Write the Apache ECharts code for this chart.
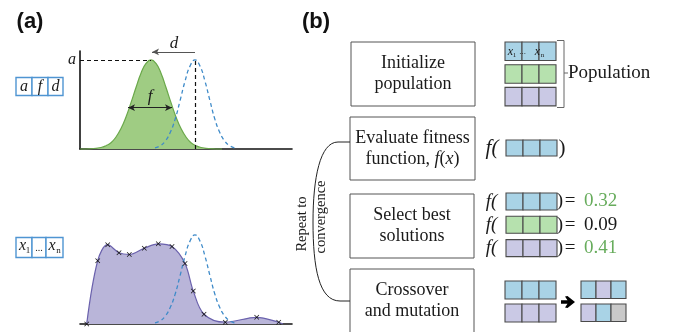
<!DOCTYPE html>
<html><head><meta charset="utf-8">
<script src="https://cdn.jsdelivr.net/npm/echarts@6/dist/echarts.min.js"></script>
<style>html,body{margin:0;padding:0;background:#fff}#c{width:676px;height:332px}</style>
</head><body><div id="c"></div>
<script>
// ---------- data ----------
// top panel: fitted peak (green) and target peak (blue dashed); x in plot units, y relative to amplitude a = 1
const peakX      = [0, 11, 21, 26, 31, 36, 41, 46, 51, 56, 61, 66, 71, 76, 81, 86, 91, 96, 101, 106, 111, 116, 121, 131, 142];
const peakY      = [0, 0.003, 0.017, 0.037, 0.07, 0.135, 0.23, 0.36, 0.52, 0.69, 0.85, 0.96, 1, 0.96, 0.85, 0.69, 0.52, 0.36, 0.23, 0.135, 0.07, 0.037, 0.017, 0.003, 0];
const targetX    = [75, 80, 85, 90, 95, 100, 105, 110, 115, 120, 125, 130, 135, 140, 145, 150, 155];
const targetY    = [0.012, 0.035, 0.085, 0.18, 0.33, 0.54, 0.76, 0.93, 1, 0.93, 0.76, 0.54, 0.33, 0.18, 0.085, 0.035, 0.012];
// bottom panel: free-form profile defined by points x1..xn
const profileX   = [6.7, 17.7, 27.7, 39, 49.3, 64.3, 78.3, 92, 105, 113.3, 124, 145.3, 176.7, 198.7, 203];
const profileY   = [0, 0.71, 0.89, 0.80, 0.78, 0.85, 0.90, 0.87, 0.68, 0.37, 0.11, 0.02, 0.075, 0.02, 0];
// annotation values
const peakCenter = 71, targetCenter = 115, halfWidthLevel = 0.464, fwhmFrom = 48, fwhmTo = 92;
// panel (b)
const stepLabels = [['Initialize', 'population'], ['Evaluate fitness', 'function, {i|f}({i|x})'], ['Select best', 'solutions'], ['Crossover', 'and mutation']];
const fitnessValues = ['0.32', '0.09', '0.41'];
const fitnessSelected = [true, false, true];
const population = [['blue', 'blue', 'blue'], ['green', 'green', 'green'], ['purple', 'purple', 'purple']];
const parents = [['blue', 'blue', 'blue'], ['purple', 'purple', 'purple']];
const offspring = [['blue', 'purple', 'blue'], ['purple', 'blue', 'gray']];
const paramLabels = ['a', 'f', 'd'];

// ---------- styles ----------
const serif = 'Liberation Serif';
const cellColor = {blue: '#a9d3e6', green: '#b6e1ae', purple: '#cac9e5', gray: '#c9c9c9'};
const cellStroke = '#4a4a4a';
const zip = (xs, ys) => xs.map((x, i) => [x, ys[i]]);
const crossSym = 'path://M0,1L1,0L5,4L9,0L10,1L6,5L10,9L9,10L5,6L1,10L0,9L4,5Z';

const g = [];
function txt(x, y, text, o, rot) {
  const el = {type: 'text', x: x, y: y, z: 10, style: Object.assign({text: text, fontFamily: serif, fontSize: 16, fill: '#1a1a1a', align: 'center', verticalAlign: 'middle'}, o || {})};
  if (rot) el.rotation = rot;
  g.push(el);
}
function rect(x, y, w, h, fill, stroke, lw) {
  g.push({type: 'rect', z: 5, shape: {x: x, y: y, width: w, height: h}, style: {fill: fill, stroke: stroke, lineWidth: lw}});
}
function row(x, y, w, h, colors) {
  const cw = w / colors.length;
  colors.forEach((c, i) => rect(x + i * cw, y, cw, h, cellColor[c], cellStroke, 1.1));
}
function line(x1, y1, x2, y2, stroke, lw) {
  g.push({type: 'line', z: 5, shape: {x1: x1, y1: y1, x2: x2, y2: y2}, style: {stroke: stroke, lineWidth: lw}});
}

// panel labels
txt(30, 22, '(a)', {fontFamily: 'Liberation Sans', fontWeight: 'bold', fontSize: 22, fill: '#111'});
txt(316, 22, '(b)', {fontFamily: 'Liberation Sans', fontWeight: 'bold', fontSize: 22, fill: '#111'});

// parameter boxes (a)
const pbW = [16, 16, 15];
let px = 16;
paramLabels.forEach((l, i) => {
  rect(px, 77.5, pbW[i], 18, '#fff', '#4f95d2', 1.4);
  txt(px + pbW[i] / 2, 86.5, l, {fontStyle: 'italic', fontSize: 16});
  px += pbW[i];
});
// x1 ... xn box
rect(16, 237.5, 16, 20, '#fff', '#4f95d2', 1.4);
rect(32, 237.5, 14, 20, '#fff', '#4f95d2', 1.4);
rect(46, 237.5, 17, 20, '#fff', '#4f95d2', 1.4);
txt(22.5, 246, 'x', {fontStyle: 'italic', fontSize: 16});
txt(28, 251, '1', {fontSize: 9});
txt(39, 248, '...', {fontSize: 10});
txt(52, 246, 'x', {fontStyle: 'italic', fontSize: 16});
txt(58.5, 251, 'n', {fontSize: 9});
// labels on the top plot
txt(72, 60, 'a', {fontStyle: 'italic', fontSize: 16});
txt(174, 44, 'd', {fontStyle: 'italic', fontSize: 17});
txt(150, 97, 'f', {fontStyle: 'italic', fontSize: 17});

// step boxes (b)
const boxes = [[351, 42, 124, 64], [350, 117, 125, 63], [350, 194, 124, 64], [350, 269, 124, 70]];
boxes.forEach((b, i) => {
  rect(b[0], b[1], b[2], b[3], '#fff', '#555', 1);
  const cx = b[0] + b[2] / 2;
  txt(cx, b[1] + 21, stepLabels[i][0], {fontSize: 18});
  txt(cx, b[1] + 42, stepLabels[i][1], {fontSize: 18, rich: {i: {fontStyle: 'italic', fontFamily: serif, fontSize: 18, fill: '#1a1a1a'}}});
});

// population
population.forEach((r, i) => row(505, 42 + i * 22.7, 51, 18.5, r));
txt(510.5, 51.5, 'x', {fontStyle: 'italic', fontSize: 12});
txt(514.5, 55, '1', {fontSize: 7});
txt(522.5, 52, '...', {fontSize: 9});
txt(537.5, 51.5, 'x', {fontStyle: 'italic', fontSize: 12});
txt(542.5, 55, 'n', {fontSize: 7});
g.push({type: 'polyline', z: 5, shape: {points: [[557, 40.5], [564, 40.5], [564, 107.5], [557, 107.5]]}, style: {fill: null, stroke: '#666', lineWidth: 1}});
line(564, 73, 568, 73, '#666', 1);
txt(568, 73, 'Population', {align: 'left', fontSize: 19});

// evaluate
txt(492, 148, 'f(', {fontStyle: 'italic', fontSize: 21});
row(506, 140, 51, 16, population[0]);
txt(562, 148, ')', {fontSize: 21});

// select
population.forEach((r, i) => {
  const y = 193 + i * 23.3;
  txt(491.5, y + 8.5, 'f(', {fontStyle: 'italic', fontSize: 19});
  row(506, y, 51, 17, r);
  txt(560, y + 8.5, ')', {fontSize: 19});
  txt(570, y + 8.5, '=', {fontSize: 19});
  txt(584, y + 8.5, fitnessValues[i], {fontSize: 19, align: 'left', fill: fitnessSelected[i] ? '#67ac5c' : '#1a1a1a'});
});

// crossover
parents.forEach((r, i) => row(505, 281 + i * 23, 51, 18, r));
offspring.forEach((r, i) => row(581, 281 + i * 23, 45, 17.5, r));
g.push({type: 'polygon', z: 6, shape: {points: [[561, 300.2], [567.5, 300.2], [565, 296.5], [567.5, 296], [575, 302], [567.5, 308], [565, 307.5], [567.5, 303.8], [561, 303.8]]}, style: {fill: '#000'}});

// repeat loop
line(350, 142, 338, 142, '#222', 1);
g.push({type: 'bezierCurve', z: 5, shape: {x1: 338, y1: 142, cpx1: 320, cpy1: 142, cpx2: 313, cpy2: 178, x2: 313, y2: 222}, style: {fill: null, stroke: '#222', lineWidth: 1}});
g.push({type: 'bezierCurve', z: 5, shape: {x1: 313, y1: 222, cpx1: 313, cpy1: 268, cpx2: 319, cpy2: 301, x2: 340, y2: 301}, style: {fill: null, stroke: '#222', lineWidth: 1}});
line(340, 301, 350, 301, '#222', 1);
txt(302.5, 224, 'Repeat to', {fontSize: 14.5}, Math.PI / 2);
txt(321.5, 217, 'convergence', {fontSize: 14.5}, Math.PI / 2);

const chart = echarts.init(document.getElementById('c'));
chart.setOption({
  animation: false,
  grid: [
    {left: 80, right: 384, top: 51, bottom: 183},
    {left: 80, right: 384, top: 226, bottom: 8}
  ],
  xAxis: [
    {gridIndex: 0, type: 'value', min: 0, max: 212, axisLine: {lineStyle: {color: '#111', width: 1.6}}, axisTick: {show: false}, axisLabel: {show: false}, splitLine: {show: false}},
    {gridIndex: 1, type: 'value', min: 0, max: 212, axisLine: {lineStyle: {color: '#111', width: 1.6}}, axisTick: {show: false}, axisLabel: {show: false}, splitLine: {show: false}}
  ],
  yAxis: [
    {gridIndex: 0, type: 'value', min: 0, max: 1.1, axisLine: {show: true, lineStyle: {color: '#111', width: 1.6}}, axisTick: {show: false}, axisLabel: {show: false}, splitLine: {show: false}},
    {gridIndex: 1, type: 'value', min: 0, max: 1.1, show: false, splitLine: {show: false}}
  ],
  series: [
    {type: 'line', xAxisIndex: 0, yAxisIndex: 0, data: zip(peakX, peakY), smooth: true, symbol: 'none', clip: false,
     lineStyle: {color: '#6aa84a', width: 1.2}, areaStyle: {color: '#9fcc83', opacity: 1},
     markLine: {silent: true, symbol: ['none', 'none'], label: {show: false}, animation: false,
       data: [
         [{coord: [0, 1], lineStyle: {type: [4, 3], color: '#111', width: 1.2}}, {coord: [peakCenter, 1]}],
         [{coord: [targetCenter, 0], lineStyle: {type: [4, 3], color: '#111', width: 1.2}}, {coord: [targetCenter, 1]}],
         [{coord: [targetCenter, 1], lineStyle: {type: 'solid', color: '#555', width: 1.2}}, {coord: [targetCenter, 1.14]}],
         [{coord: [peakCenter, 1.03], lineStyle: {type: 'solid', color: '#555', width: 1.2}}, {coord: [peakCenter, 1.14]}],
         [{coord: [targetCenter, 1.09], lineStyle: {type: 'solid', color: '#555', width: 1.2}, symbol: 'none'}, {coord: [peakCenter + 1, 1.09], symbol: 'arrow', symbolSize: [5, 7]}],
         [{coord: [fwhmFrom, halfWidthLevel], lineStyle: {type: 'solid', color: '#222', width: 1.2}, symbol: 'arrow', symbolSize: [5, 7]}, {coord: [fwhmTo, halfWidthLevel], symbol: 'arrow', symbolSize: [5, 7]}]
       ]}},
    {type: 'line', xAxisIndex: 0, yAxisIndex: 0, data: zip(targetX, targetY), smooth: true, symbol: 'none',
     lineStyle: {color: '#3f8bc9', width: 1.3, type: [4, 3]}},
    {type: 'line', xAxisIndex: 1, yAxisIndex: 1, data: zip(profileX, profileY).map((p, i) => i === profileX.length - 1 ? {value: p, symbol: 'none'} : p),
     smooth: 0.35, symbol: crossSym, symbolSize: 5, showAllSymbol: true,
     itemStyle: {color: '#111'}, lineStyle: {color: '#6b62ad', width: 1.2}, areaStyle: {color: '#b9b5d9', opacity: 1}},
    {type: 'line', xAxisIndex: 1, yAxisIndex: 1, data: zip(targetX, targetY), smooth: true, symbol: 'none',
     lineStyle: {color: '#3f8bc9', width: 1.3, type: [4, 3]}}
  ],
  graphic: g
});
</script></body></html>
